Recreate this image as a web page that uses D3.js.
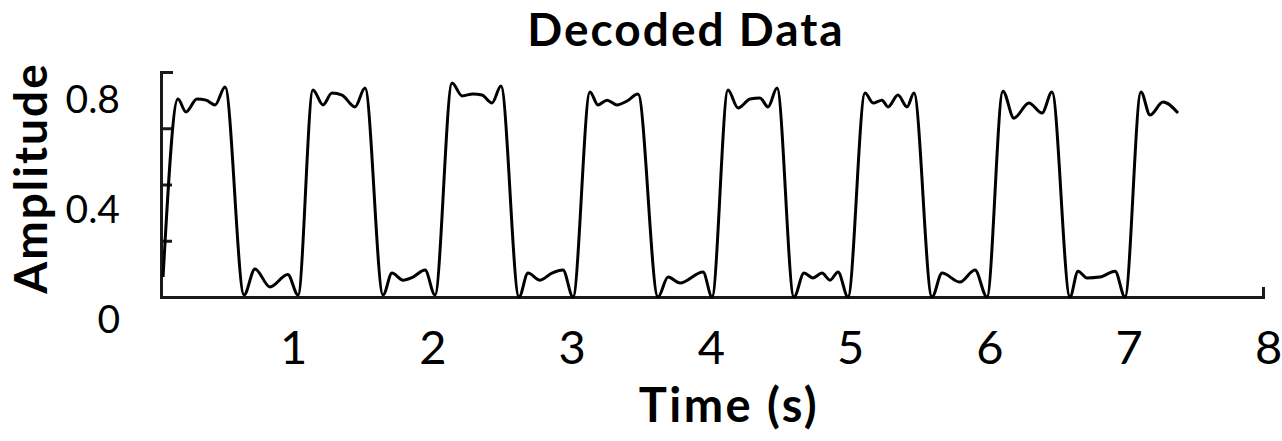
<!DOCTYPE html>
<html>
<head>
<meta charset="utf-8">
<script src="https://cdn.jsdelivr.net/npm/d3@7"></script>
<style>
  html, body { margin: 0; padding: 0; background: #fff; }
  text { font-family: Lato, "Open Sans", sans-serif; fill: #000; }
</style>
</head>
<body>
<script>
// decoded signal (seconds, amplitude)
const time = [0.015, 0.123, 0.181, 0.261, 0.327, 0.392, 0.465, 0.603, 0.682, 0.791,
  0.920, 0.995, 1.103, 1.176, 1.241, 1.314, 1.408, 1.481, 1.612, 1.677,
  1.757, 1.829, 1.917, 1.989, 2.113, 2.185, 2.265, 2.330, 2.403, 2.468,
  2.599, 2.664, 2.751, 2.838, 2.918, 2.991, 3.114, 3.172, 3.238, 3.310,
  3.383, 3.463, 3.608, 3.681, 3.768, 3.935, 4.000, 4.116, 4.189, 4.276,
  4.348, 4.407, 4.472, 4.595, 4.668, 4.733, 4.798, 4.857, 4.915, 4.987,
  5.111, 5.169, 5.234, 5.278, 5.350, 5.416, 5.466, 5.597, 5.670, 5.800,
  5.909, 5.996, 6.112, 6.192, 6.301, 6.396, 6.468, 6.599, 6.657, 6.722,
  6.817, 6.926, 6.998, 7.114, 7.180, 7.274, 7.383]
const amplitude = [0.071, 0.704, 0.658, 0.704, 0.700, 0.683, 0.747, 0.007, 0.100, 0.036,
  0.080, 0.007, 0.736, 0.683, 0.725, 0.718, 0.676, 0.743, 0.007, 0.085,
  0.060, 0.071, 0.096, 0.007, 0.761, 0.715, 0.722, 0.718, 0.690, 0.750,
  0.000, 0.085, 0.060, 0.085, 0.096, 0.000, 0.729, 0.683, 0.700, 0.683,
  0.697, 0.722, 0.000, 0.071, 0.050, 0.089, 0.000, 0.736, 0.672, 0.704,
  0.708, 0.676, 0.743, 0.000, 0.085, 0.068, 0.085, 0.060, 0.089, 0.000,
  0.725, 0.690, 0.700, 0.676, 0.718, 0.676, 0.725, 0.000, 0.085, 0.053,
  0.096, 0.000, 0.732, 0.636, 0.690, 0.654, 0.729, 0.000, 0.092, 0.068,
  0.071, 0.092, 0.000, 0.729, 0.647, 0.693, 0.654]

const xTicks = [1, 2, 3, 4, 5, 6, 7, 8]
const yTicks = [0, 0.4, 0.8]
const yMarks = [0.2, 0.4, 0.6]

const width = 1282
const height = 441

const svg = d3.select("body")
    .append("svg")
    .attr("width", width)
    .attr("height", height)

const x = d3.scaleLinear().domain([0, 8]).range([161, 1263])
const y = d3.scaleLinear().domain([0, 0.8]).range([297, 72])
// the tick labels in the picture sit a little off the marks
const xLab = d3.scaleLinear().domain([1, 8]).range([293, 1268])
const yLab = d3.scaleLinear().domain([0, 0.8]).range([320, 100])

const axisColor = "#1a1a1a"

// y axis line, inner ticks and top cap
const gy = svg.append("g")
    .attr("transform", `translate(${x(0)},0)`)
    .call(d3.axisLeft(y).tickValues(yMarks).tickSize(-11).tickSizeOuter(-12).tickFormat(""))
gy.selectAll("path, line").attr("stroke", axisColor).attr("stroke-width", 3)

// x axis line with right cap
const gx = svg.append("g")
    .attr("transform", `translate(0,${y(0)})`)
    .call(d3.axisBottom(x).tickValues([]).tickSizeOuter(-10))
gx.selectAll("path, line").attr("stroke", axisColor).attr("stroke-width", 3)

// tick labels
const gxl = svg.append("g")
    .attr("transform", "translate(0,328)")
    .call(d3.axisBottom(xLab).tickValues(xTicks).tickSize(0).tickPadding(3).tickFormat(d3.format("d")))
gxl.select(".domain").remove()
gxl.selectAll("text").attr("font-size", 47).attr("font-family", "Lato, sans-serif").attr("fill", "#000")

const gyl = svg.append("g")
    .attr("transform", "translate(120,0)")
    .call(d3.axisLeft(yLab).tickValues(yTicks).tickSize(0).tickPadding(0).tickFormat(d => d === 0 ? "0" : d3.format(".1f")(d)))
gyl.select(".domain").remove()
gyl.selectAll("text").attr("font-size", 39).attr("font-family", "Lato, sans-serif").attr("fill", "#000")

// signal
const line = d3.line()
    .x((_, i) => x(time[i]))
    .y(d => y(d))
    .curve(d3.curveMonotoneX)

svg.append("path")
    .attr("fill", "none")
    .attr("stroke", "#000")
    .attr("stroke-width", 3)
    .attr("stroke-linejoin", "round")
    .attr("d", line(amplitude))

// titles
svg.append("text")
    .attr("x", 686)
    .attr("y", 46)
    .attr("text-anchor", "middle")
    .attr("font-size", 46)
    .attr("font-weight", "bold")
    .attr("letter-spacing", 2)
    .text("Decoded Data")

svg.append("text")
    .attr("x", 729)
    .attr("y", 422)
    .attr("text-anchor", "middle")
    .attr("font-size", 47)
    .attr("font-weight", "bold")
    .attr("letter-spacing", 2.5)
    .text("Time (s)")

svg.append("text")
    .attr("transform", "translate(47,178) rotate(-90)")
    .attr("text-anchor", "middle")
    .attr("font-size", 46)
    .attr("font-weight", "bold")
    .attr("letter-spacing", 2)
    .text("Amplitude")
</script>
</body>
</html>
